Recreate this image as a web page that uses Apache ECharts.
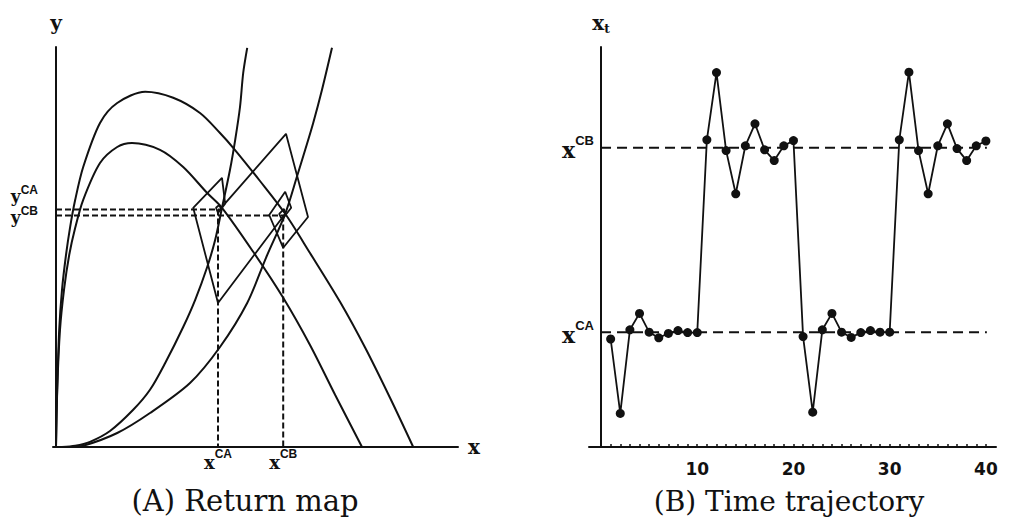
<!DOCTYPE html>
<html><head><meta charset="utf-8">
<script src="https://cdn.jsdelivr.net/npm/echarts@6/dist/echarts.min.js"></script>
<style>html,body{margin:0;padding:0;background:#fff}#c{width:1009px;height:528px}</style>
</head><body><div id="c"></div>
<script>
// ---------- Panel A : return map (x, y) ----------
const upperHump = [[0,0],[0.03,1.43],[0.08,2.93],[0.15,3.93],[0.25,4.8],[0.35,5.48],[0.48,6.18],[0.68,7.0],[1.1,8.1],[1.53,8.6],[2.23,8.88],[2.93,8.73],[3.6,8.35],[4.1,7.85],[4.43,7.48],[5.1,6.65],[5.73,5.83],[6.35,4.85],[7.1,3.63],[7.73,2.48],[8.35,1.23],[8.93,0]];
const lowerHump = [[0,0],[0.03,1.43],[0.1,2.93],[0.2,3.93],[0.33,4.8],[0.48,5.48],[0.68,6.18],[1.1,7.1],[1.53,7.5],[1.9,7.6],[2.6,7.43],[3.18,7.0],[3.78,6.35],[4.15,5.98],[4.93,4.88],[5.68,3.73],[6.35,2.55],[6.98,1.3],[7.65,0]];
const steepRise = [[0.15,0],[0.48,0.03],[0.85,0.13],[1.35,0.4],[1.93,0.93],[2.35,1.43],[2.73,2.1],[3.18,3.0],[3.48,3.68],[3.78,4.5],[3.98,5.18],[4.15,5.98],[4.35,6.93],[4.48,7.68],[4.6,8.5],[4.68,9.35],[4.78,9.98]];
const gentleRise = [[0.35,0],[0.68,0.03],[1.53,0.35],[2.35,0.85],[3.35,1.6],[4.1,2.5],[4.78,3.6],[5.25,4.73],[5.73,5.83],[6.03,6.78],[6.23,7.43],[6.43,8.1],[6.65,8.93],[6.9,9.98]];
const cobweb = [[4.13,5.98],[5.75,7.83],[6.3,5.75],[5.68,4.98],[5.33,5.8],[5.73,6.38],[5.88,5.98],[5.65,5.68],[5.58,5.83],[5.7,5.95],[5.73,5.83],[4.05,3.6],[3.43,5.98],[4.15,6.73],[4.23,6.08],[4.05,5.85],[4.0,5.98],[4.08,6.05],[4.13,5.95],[4.13,5.98]];
const xCA = 4.05, xCB = 5.68;      // fixed-point x values
const yCA = 5.94, yCB = 5.79;      // fixed-point y values
const yCAend = 4.15, yCBend = 5.72; // where the horizontal guides stop

// ---------- Panel B : time trajectory ----------
const tSteps = [1,2,3,4,5,6,7,8,9,10,11,12,13,14,15,16,17,18,19,20,21,22,23,24,25,26,27,28,29,30,31,32,33,34,35,36,37,38,39,40];
const xtValues = [27.0,8.4,29.3,33.4,28.7,27.3,28.4,29.1,28.6,28.6,76.8,93.6,74.1,63.3,75.3,80.8,74.3,71.6,75.3,76.6,27.6,8.7,29.3,33.4,28.7,27.4,28.6,29.1,28.7,28.7,76.8,93.7,74.1,63.3,75.3,80.8,74.6,71.6,75.3,76.5];
const levelCA = 28.7, levelCB = 74.8;
const tickLabelsB = [10,20,30,40];
const tEnd = 40.1;

const INK = '#111';
const serifB = {fontFamily:'DejaVu Serif', fontWeight:'bold', color:INK};
const sansB = {fontFamily:'Liberation Sans', fontWeight:'bold', color:INK};

function lineSeries(data, xi, width, dash, smooth) {
  return {
    type:'line', xAxisIndex:xi, yAxisIndex:xi, data:data, showSymbol:false, symbol:'none',
    smooth:smooth||false,
    lineStyle:{color:INK, width:width, type:dash||'solid'}, silent:true, z:2
  };
}

const chart = echarts.init(document.getElementById('c'), null, {renderer:'svg'});
const option = {
  animation:false,
  backgroundColor:'#fff',
  grid:[
    {left:53, top:47, width:405, height:400},
    {left:589, top:47, width:407, height:400}
  ],
  xAxis:[
    {type:'value', gridIndex:0, min:-0.075, max:10.05, splitLine:{show:false},
     axisLine:{onZero:true, lineStyle:{color:INK, width:2}}, axisTick:{show:false},
     axisLabel:{customValues:[xCA,xCB], margin:1,
       formatter:v => v===xCA ? '{b|x}{s|CA}' : '{b|x}{s|CB}',
       rich:{b:Object.assign({fontSize:18, lineHeight:23, verticalAlign:'bottom'}, serifB),
             s:Object.assign({fontSize:12, lineHeight:12, verticalAlign:'top'}, sansB)}},
     name:'x', nameLocation:'end', nameGap:10,
     nameTextStyle:Object.assign({fontSize:20, verticalAlign:'middle'}, serifB)},
    {type:'value', gridIndex:1, min:-1.25, max:41.05, splitLine:{show:false},
     axisLine:{onZero:true, lineStyle:{color:INK, width:2}},
     axisTick:{show:true, inside:true, length:3, customValues:tSteps, lineStyle:{color:INK, width:1.5}},
     axisLabel:{customValues:tickLabelsB, margin:13, fontFamily:'DejaVu Sans', fontWeight:'bold', fontSize:17, color:INK}}
  ],
  yAxis:[
    {type:'value', gridIndex:0, min:0, max:10, splitLine:{show:false},
     axisLine:{onZero:true, lineStyle:{color:INK, width:2}}, axisTick:{show:false},
     axisLabel:{customValues:[yCA], margin:15, padding:[0,0,9,0],
       formatter:() => '{b|y}{s|CA}\n{b|y}{s|CB}',
       rich:{b:Object.assign({fontSize:17, lineHeight:21, verticalAlign:'bottom'}, serifB),
             s:Object.assign({fontSize:12, lineHeight:15, verticalAlign:'top'}, sansB)}},
     name:'y', nameLocation:'end', nameGap:14,
     nameTextStyle:Object.assign({fontSize:20}, serifB)},
    {type:'value', gridIndex:1, min:0, max:100, splitLine:{show:false},
     axisLine:{onZero:true, lineStyle:{color:INK, width:2}}, axisTick:{show:false},
     axisLabel:{customValues:[levelCA,levelCB], margin:-5,
       formatter:v => v===levelCA ? '{b|x}{s|CA}' : '{b|x}{s|CB}',
       rich:{b:Object.assign({fontSize:22, lineHeight:27, verticalAlign:'bottom'}, serifB),
             s:Object.assign({fontSize:13, lineHeight:14, verticalAlign:'top'}, sansB)}},
     name:'{b|x}{t|t}', nameLocation:'end', nameGap:12,
     nameTextStyle:{rich:{b:Object.assign({fontSize:20, lineHeight:22, verticalAlign:'top'}, serifB),
                          t:Object.assign({fontSize:12, lineHeight:22, verticalAlign:'bottom'}, serifB)}}}
  ],
  series:[
    lineSeries(upperHump, 0, 2, null, 0.3),
    lineSeries(lowerHump, 0, 2, null, 0.3),
    lineSeries(steepRise, 0, 2, null, 0.3),
    lineSeries(gentleRise, 0, 2, null, 0.3),
    lineSeries(cobweb, 0, 1.8),
    lineSeries([[0,yCA],[yCAend,yCA]], 0, 2, [6,3]),
    lineSeries([[0,yCB],[yCBend,yCB]], 0, 2, [6,3]),
    lineSeries([[xCA,yCA],[xCA,0]], 0, 2, [6,3]),
    lineSeries([[xCB,yCB],[xCB,0]], 0, 2, [6,3]),
    lineSeries([[0,levelCB],[tEnd,levelCB]], 1, 2, [10,6]),
    lineSeries([[0,levelCA],[tEnd,levelCA]], 1, 2, [10,6]),
    {type:'line', xAxisIndex:1, yAxisIndex:1, data:tSteps.map((t,i)=>[t, xtValues[i]]),
     symbol:'circle', symbolSize:9, showSymbol:true, silent:true, z:3,
     lineStyle:{color:INK, width:1.8}, itemStyle:{color:INK, borderWidth:0}}
  ],
  graphic:[
    {type:'text', style:{x:245, y:501, text:'(A) Return map', fontFamily:'DejaVu Serif', fontSize:29, fill:INK, textAlign:'center', textVerticalAlign:'middle'}},
    {type:'text', style:{x:789, y:501, text:'(B) Time trajectory', fontFamily:'DejaVu Serif', fontSize:28, fill:INK, textAlign:'center', textVerticalAlign:'middle'}}
  ]
};
chart.setOption(option);
</script></body></html>
